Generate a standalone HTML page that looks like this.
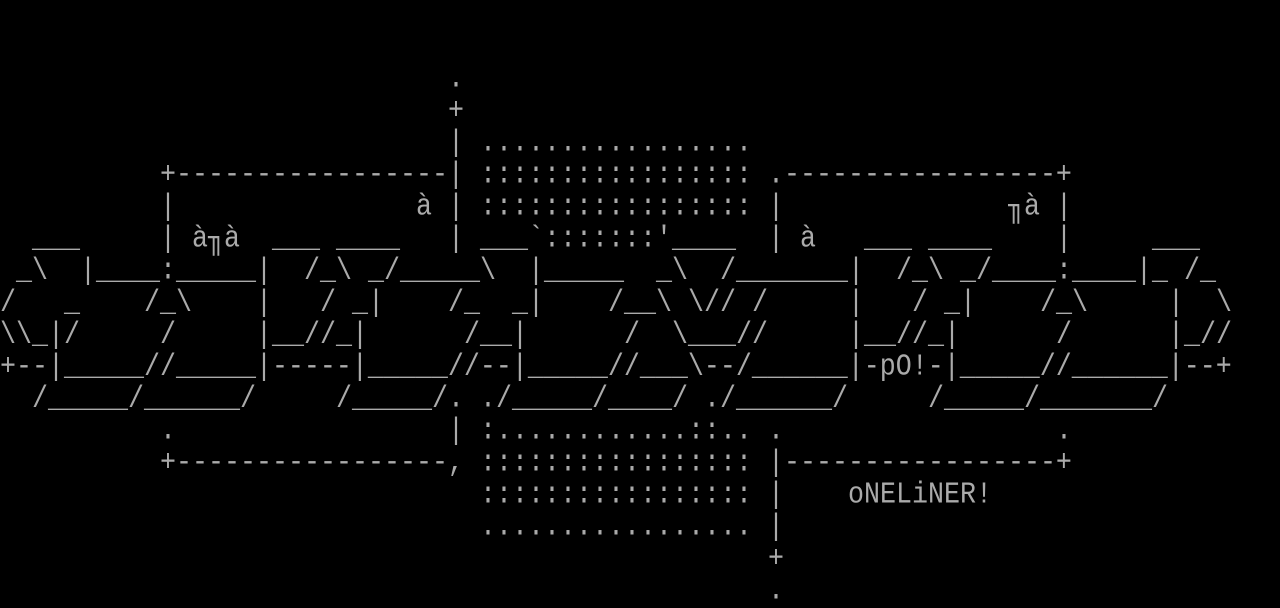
<!DOCTYPE html>
<html><head><meta charset="utf-8">
<style>
html,body{margin:0;padding:0;background:#000;}
#c{position:relative;width:1280px;height:608px;overflow:hidden;background:#000;}
#c span{position:absolute;white-space:pre;font-family:"Liberation Mono","DejaVu Sans Mono",monospace;font-size:26.667px;line-height:32px;height:32px;color:#aaa;transform:scaleY(1.15);transform-origin:50% 60%;}
</style></head><body><div id="c">
<span style="left:448px;top:64px">.</span>
<span style="left:448px;top:96px">+</span>
<span style="left:448px;top:128px">|</span><span style="left:480px;top:128px">.................</span>
<span style="left:160px;top:160px">+-----------------|</span><span style="left:480px;top:160px">:::::::::::::::::</span><span style="left:768px;top:160px">.-----------------+</span>
<span style="left:160px;top:192px">|</span><span style="left:416px;top:192px">à</span><span style="left:448px;top:192px">|</span><span style="left:480px;top:192px">:::::::::::::::::</span><span style="left:768px;top:192px">|</span><span style="left:1008px;top:192px">╖à</span><span style="left:1056px;top:192px">|</span>
<span style="left:32px;top:224px">___</span><span style="left:160px;top:224px">|</span><span style="left:192px;top:224px">à╖à</span><span style="left:272px;top:224px">___</span><span style="left:336px;top:224px">____</span><span style="left:448px;top:224px">|</span><span style="left:480px;top:224px">___`:::::::'____</span><span style="left:768px;top:224px">|</span><span style="left:800px;top:224px">à</span><span style="left:864px;top:224px">___</span><span style="left:928px;top:224px">____</span><span style="left:1056px;top:224px">|</span><span style="left:1152px;top:224px">___</span>
<span style="left:16px;top:256px">_\</span><span style="left:80px;top:256px">|____:_____|</span><span style="left:304px;top:256px">/_\</span><span style="left:368px;top:256px">_/_____\</span><span style="left:528px;top:256px">|_____</span><span style="left:656px;top:256px">_\</span><span style="left:720px;top:256px">/_______|</span><span style="left:896px;top:256px">/_\</span><span style="left:960px;top:256px">_/____:____|_</span><span style="left:1184px;top:256px">/_</span>
<span style="left:0px;top:288px">/</span><span style="left:64px;top:288px">_</span><span style="left:144px;top:288px">/_\</span><span style="left:256px;top:288px">|</span><span style="left:320px;top:288px">/</span><span style="left:352px;top:288px">_|</span><span style="left:448px;top:288px">/_</span><span style="left:512px;top:288px">_|</span><span style="left:608px;top:288px">/__\</span><span style="left:688px;top:288px">\//</span><span style="left:752px;top:288px">/</span><span style="left:848px;top:288px">|</span><span style="left:912px;top:288px">/</span><span style="left:944px;top:288px">_|</span><span style="left:1040px;top:288px">/_\</span><span style="left:1168px;top:288px">|</span><span style="left:1216px;top:288px">\</span>
<span style="left:0px;top:320px">\\_|/</span><span style="left:160px;top:320px">/</span><span style="left:256px;top:320px">|__//_|</span><span style="left:464px;top:320px">/__|</span><span style="left:624px;top:320px">/</span><span style="left:672px;top:320px">\___//</span><span style="left:848px;top:320px">|__//_|</span><span style="left:1056px;top:320px">/</span><span style="left:1168px;top:320px">|_//</span>
<span style="left:0px;top:352px">+--|_____//_____|-----|_____//--|_____//___\--/______|-pO!-|_____//______|--+</span>
<span style="left:32px;top:384px">/_____/______/</span><span style="left:336px;top:384px">/_____/.</span><span style="left:480px;top:384px">./_____/____/</span><span style="left:704px;top:384px">./______/</span><span style="left:928px;top:384px">/_____/_______/</span>
<span style="left:160px;top:416px">.</span><span style="left:448px;top:416px">|</span><span style="left:480px;top:416px">:............::..</span><span style="left:768px;top:416px">.</span><span style="left:1056px;top:416px">.</span>
<span style="left:160px;top:448px">+-----------------,</span><span style="left:480px;top:448px">:::::::::::::::::</span><span style="left:768px;top:448px">|-----------------+</span>
<span style="left:480px;top:480px">:::::::::::::::::</span><span style="left:768px;top:480px">|</span><span style="left:848px;top:480px">oNELiNER!</span>
<span style="left:480px;top:512px">.................</span><span style="left:768px;top:512px">|</span>
<span style="left:768px;top:544px">+</span>
<span style="left:768px;top:576px">.</span>
</div></body></html>
